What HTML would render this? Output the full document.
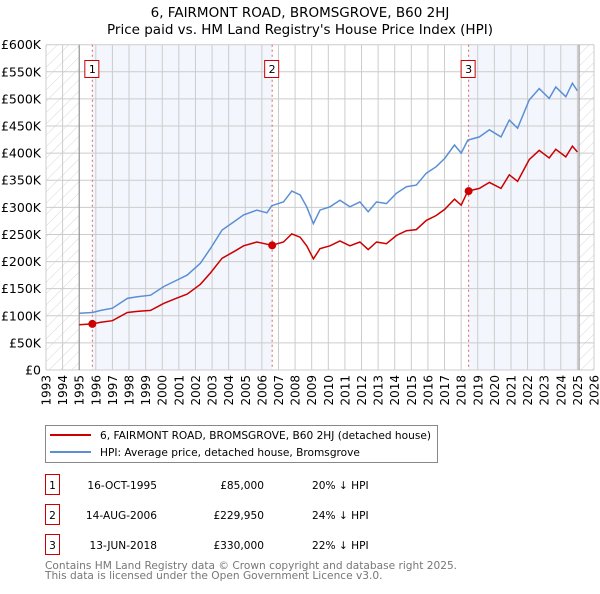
<!DOCTYPE html>
<html><head><meta charset="utf-8"><style>
body{margin:0;background:#fff;font-family:"DejaVu Sans","Liberation Sans",sans-serif;}
svg text{font-family:"DejaVu Sans","Liberation Sans",sans-serif;}
</style></head><body>
<svg id="c" width="600" height="590" xmlns="http://www.w3.org/2000/svg">
<defs><pattern id="hatch" width="8" height="8" patternUnits="userSpaceOnUse" patternTransform="rotate(45)"><line x1="0" y1="0" x2="0" y2="8" stroke="#d8d8d8" stroke-width="1"/></pattern></defs>
<text x="300" y="17" text-anchor="middle" font-size="13.5">6, FAIRMONT ROAD, BROMSGROVE, B60 2HJ</text>
<text x="300" y="34" text-anchor="middle" font-size="13.5">Price paid vs. HM Land Registry's House Price Index (HPI)</text>
<g id="plot"></g>
<g>
<rect x="45.5" y="425.5" width="392" height="37" fill="#fff" stroke="#888"/>
<line x1="50" y1="435" x2="91" y2="435" stroke="#cc0000" stroke-width="2"/>
<text x="100" y="439" font-size="10.6">6, FAIRMONT ROAD, BROMSGROVE, B60 2HJ (detached house)</text>
<line x1="50" y1="452" x2="91" y2="452" stroke="#5b8fd4" stroke-width="2"/>
<text x="100" y="456" font-size="10.6">HPI: Average price, detached house, Bromsgrove</text>
</g>
<g id="table" font-size="10.6"></g>
<text x="45" y="569" font-size="10.6" fill="#777">Contains HM Land Registry data © Crown copyright and database right 2025.</text>
<text x="45" y="579" font-size="10.6" fill="#777">This data is licensed under the Open Government Licence v3.0.</text>
</svg>
<script>
const hpiYears=[1995.0,1995.8,1996.3,1997.0,1997.9,1998.5,1999.3,2000.1,2000.9,2001.5,2002.3,2002.9,2003.6,2004.3,2004.9,2005.7,2006.3,2006.6,2007.3,2007.8,2008.3,2008.7,2009.1,2009.5,2010.1,2010.7,2011.3,2011.9,2012.4,2012.9,2013.5,2014.1,2014.7,2015.3,2015.9,2016.5,2017.0,2017.6,2018.0,2018.4,2019.1,2019.7,2020.4,2020.9,2021.4,2022.1,2022.7,2023.3,2023.7,2024.3,2024.7,2025.0];
const hpiValues=[104.5,106,110,114,132,135,138,154,166,175,197,224,258,273,286,295,290,303,310,330,323,301,270,295,301,313,301,310,292,310,307,326,338,341,363,375,390,415,400,424,430,443,430,461,446,498,519,501,522,504,529,515];
const paidValues=[83.6,85,88,91,106,108,110,123,133,140,158,179,206,218,229,236,232,230,236,251,245,229,205,224,229,238,229,236,222,236,233,248,257,259,276,285,296,315,304,330,335,346,335,360,348,388,405,391,407,393,413,402];
const sales=[{n:"1",t:1995.79,v:85,date:"16-OCT-1995",price:"£85,000",pct:"20% ↓ HPI"},{n:"2",t:2006.62,v:229.95,date:"14-AUG-2006",price:"£229,950",pct:"24% ↓ HPI"},{n:"3",t:2018.45,v:330,date:"13-JUN-2018",price:"£330,000",pct:"22% ↓ HPI"}];
const yTicks=[0,50,100,150,200,250,300,350,400,450,500,550,600];
const yLabels=["£0","£50K","£100K","£150K","£200K","£250K","£300K","£350K","£400K","£450K","£500K","£550K","£600K"];
const xStart=1993,xEnd=2026,dataStart=1995.0,dataEnd=2025.1;
const L=46,R=594,T=44.7,B=370;
const X=t=>L+(t-xStart)/(xEnd-xStart)*(R-L);
const Y=v=>B-v/600*(B-T);
const NS="http://www.w3.org/2000/svg";
const g=document.getElementById('plot');
function mk(tag,attrs,parent){const e=document.createElementNS(NS,tag);for(const k in attrs)e.setAttribute(k,attrs[k]);(parent||g).appendChild(e);return e;}
let r=mk('rect',{x:L,y:T,width:R-L,height:B-T,fill:'#fff'});


r=mk('rect',{x:X(sales[0].t),y:T,width:X(sales[1].t)-X(sales[0].t),height:B-T,fill:'#f3f6fd'});


r=mk('rect',{x:X(sales[2].t),y:T,width:X(dataEnd)-X(sales[2].t),height:B-T,fill:'#f3f6fd'});


r=mk('rect',{x:L,y:T,width:X(dataStart)-L,height:B-T,fill:'url(#hatch)'});


r=mk('rect',{x:X(dataEnd),y:T,width:R-X(dataEnd),height:B-T,fill:'url(#hatch)'});


for(let yr=xStart;yr<=xEnd;yr++){
  const l=mk('line',{x1:X(yr),x2:X(yr),y1:T,y2:B,stroke:'#ccc','stroke-width':1});
  
  
  const tx=mk('text',{x:0,y:0,'font-size':12,'text-anchor':'end',transform:`translate(${X(yr)+4.5},375) rotate(-90)`});
  tx.textContent=yr;
  
  
}
yTicks.forEach((v,i)=>{
  const l=mk('line',{x1:L,x2:R,y1:Y(v),y2:Y(v),stroke:'#ccc','stroke-width':1});
  
  
  const tx=mk('text',{x:41,y:Y(v)+4.5,'font-size':12.5,'text-anchor':'end'});
  tx.textContent=yLabels[i];
  
  
});
[dataStart,dataEnd].forEach(t=>{const l=mk('line',{x1:X(t),x2:X(t),y1:T,y2:B,stroke:'#888','stroke-width':1});

});
sales.forEach(s=>{
  const l=mk('line',{x1:X(s.t),x2:X(s.t),y1:T,y2:B,stroke:'#e06060','stroke-width':1,'stroke-dasharray':'2,3'});
  
  
  const b=mk('rect',{x:X(s.t)-7.5,y:60.5,width:14,height:17,fill:'#fff',stroke:'#cc0000'});
  
  
  const t=mk('text',{x:X(s.t),y:73,'font-size':11,'text-anchor':'middle'});
  t.textContent=s.n;
  
  
});
const pts=a=>hpiYears.map((t,i)=>X(t).toFixed(1)+','+Y(a[i]).toFixed(1)).join(' ');
let p=mk('polyline',{points:pts(hpiValues),fill:'none',stroke:'#5b8fd4','stroke-width':1.5});


p=mk('polyline',{points:pts(paidValues),fill:'none',stroke:'#cc0000','stroke-width':1.5});


sales.forEach(s=>{const c=mk('circle',{cx:X(s.t),cy:Y(s.v),r:4,fill:'#cc0000'});

});
const tb=document.getElementById('table');
sales.forEach((s,i)=>{
  const y=485+i*30;
  let e=mk('rect',{x:45.5,y:y-10.5,width:14,height:20,fill:'#fff',stroke:'#cc0000'},tb);
  
  
  e=mk('text',{x:52.5,y:y+4,'text-anchor':'middle'},tb);e.textContent=s.n;
  
  
  e=mk('text',{x:157,y:y+4,'text-anchor':'end'},tb);e.textContent=s.date;
  
  
  e=mk('text',{x:264,y:y+4,'text-anchor':'end'},tb);e.textContent=s.price;
  
  
  e=mk('text',{x:312,y:y+4},tb);e.textContent=s.pct;
  
  
});
</script>
</body></html>
